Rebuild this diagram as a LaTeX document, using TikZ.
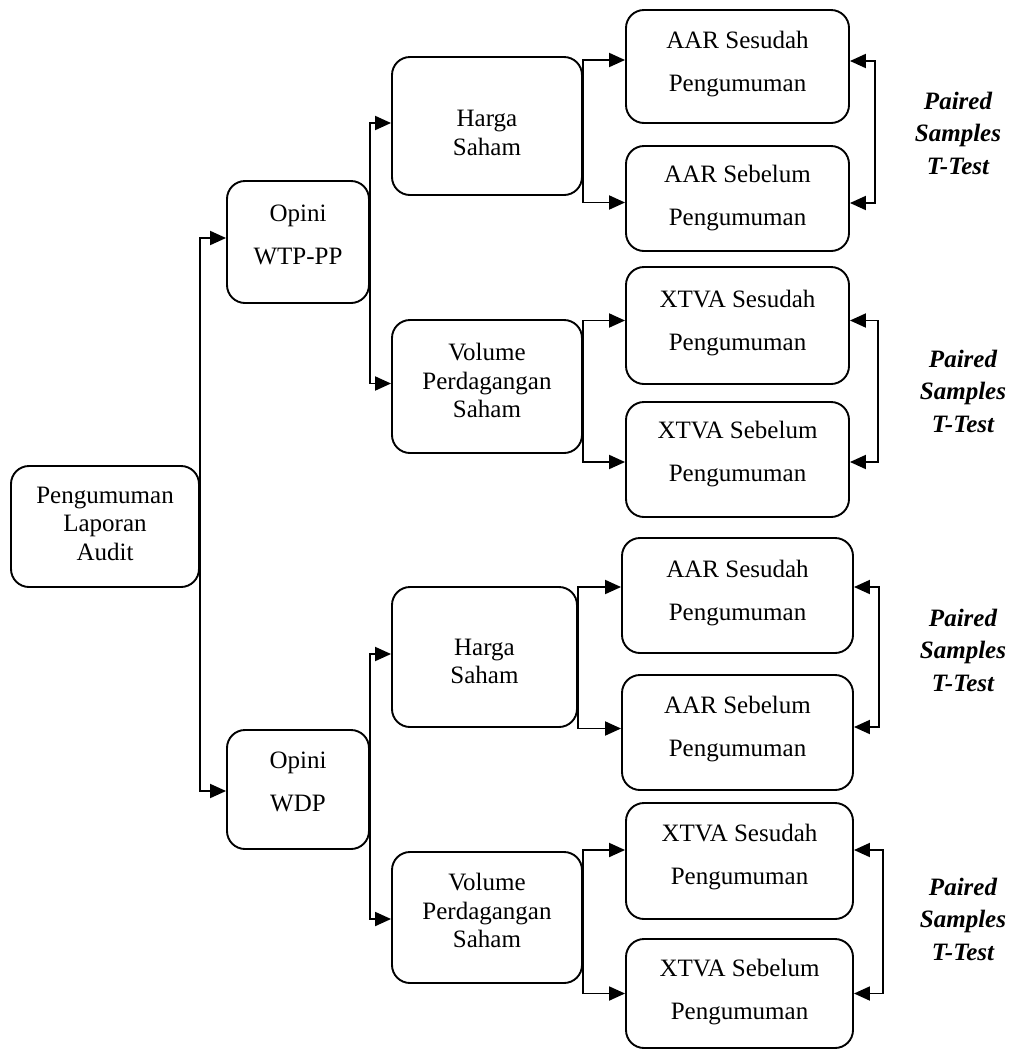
\documentclass[tikz,border=0pt]{standalone}
\usepackage{fontspec}
\setmainfont{Liberation Serif}
\usetikzlibrary{arrows.meta}
% struts used to shift the text block inside a box
\newcommand\lowstrut[1]{\rule[-#1]{0pt}{#1}}
\newcommand\tallstrut[1]{\rule{0pt}{#1}}
\tikzset{
  box/.style={draw, line width=1.9pt, rounded corners=18pt, align=center, inner sep=0pt,
    font=\fontsize{25}{28.5}\selectfont},
  conn/.style={line width=1.9pt, -{Triangle[length=16pt,width=14pt]}},
  pair/.style={line width=1.9pt, {Triangle[length=16pt,width=14pt]}-{Triangle[length=16pt,width=14pt]}},
  lab/.style={align=center, inner sep=0pt, font=\fontsize{25}{32.5}\selectfont\bfseries\itshape},
}
\begin{document}
\begin{tikzpicture}[x=1pt,y=-1pt]
\useasboundingbox (0,0) rectangle (1013,1053);
% boxes
\node[box, minimum width=188pt, minimum height=121pt] (R) at (105,526.5) {Pengumuman\\Laporan\\Audit\lowstrut{6.3pt}};
\node[box, minimum width=142pt, minimum height=122pt] (O1) at (298,242) {Opini\\[14.5pt]WTP-PP\lowstrut{15pt}};
\node[box, minimum width=142pt, minimum height=119pt] (O2) at (298,789.5) {Opini\\[14.5pt]WDP\lowstrut{16pt}};
\node[box, minimum width=190pt, minimum height=138pt] (H1) at (487,126) {\tallstrut{30.6pt}Harga\\Saham};
\node[box, minimum width=190pt, minimum height=133pt] (V1) at (487,386.5) {Volume\\Perdagangan\\Saham\lowstrut{12.3pt}};
\node[box, minimum width=185pt, minimum height=140pt] (H2) at (484.5,657) {\tallstrut{25.6pt}Harga\\Saham};
\node[box, minimum width=190pt, minimum height=131pt] (V2) at (487,917.5) {Volume\\Perdagangan\\Saham\lowstrut{14.3pt}};
% leaves
\node[box, minimum width=223pt, minimum height=113pt] (L1) at (737.5,66.5) {AAR Sesudah\\[14.5pt]Pengumuman\lowstrut{9.4pt}};
\node[box, minimum width=223pt, minimum height=105pt] (L2) at (737.5,198.5) {AAR Sebelum\\[14.5pt]Pengumuman};
\node[box, minimum width=223pt, minimum height=117pt] (L3) at (737.5,325.5) {XTVA Sesudah\\[14.5pt]Pengumuman\lowstrut{10.4pt}};
\node[box, minimum width=223pt, minimum height=115pt] (L4) at (737.5,459.5) {XTVA Sebelum\\[14.5pt]Pengumuman\lowstrut{15.4pt}};
\node[box, minimum width=231pt, minimum height=115pt] (L5) at (737.5,595.5) {AAR Sesudah\\[14.5pt]Pengumuman\lowstrut{10.4pt}};
\node[box, minimum width=231pt, minimum height=115pt] (L6) at (737.5,732.5) {AAR Sebelum\\[14.5pt]Pengumuman\lowstrut{11.4pt}};
\node[box, minimum width=227pt, minimum height=116pt] (L7) at (739.5,861) {XTVA Sesudah\\[14.5pt]Pengumuman\lowstrut{13.4pt}};
\node[box, minimum width=227pt, minimum height=109pt] (L8) at (739.5,993.5) {XTVA Sebelum\\[14.5pt]Pengumuman\lowstrut{7.4pt}};
% labels
\node[lab] (T1) at (958,133) {Paired\\Samples\\T-Test};
\node[lab] (T2) at (963,391) {Paired\\Samples\\T-Test};
\node[lab] (T3) at (963,650) {Paired\\Samples\\T-Test};
\node[lab] (T4) at (963,919) {Paired\\Samples\\T-Test};
% connectors
\draw[conn] (R.east) |- ([yshift=4pt]O1.west);
\draw[conn] (R.east) |- ([yshift=-1.5pt]O2.west);
\draw[conn] (O1.east) |- ([yshift=3pt]H1.west);
\draw[conn] (O1.east) |- ([yshift=3pt]V1.west);
\draw[conn] (O2.east) |- ([yshift=3pt]H2.west);
\draw[conn] (O2.east) |- ([yshift=-1.5pt]V2.west);
\draw[conn] (H1.east) |- ([yshift=6.5pt]L1.west);
\draw[conn] (H1.east) |- ([yshift=-4pt]L2.west);
\draw[conn] (V1.east) |- ([yshift=5pt]L3.west);
\draw[conn] (V1.east) |- ([yshift=-2.5pt]L4.west);
\draw[conn] (H2.east) |- ([yshift=8.5pt]L5.west);
\draw[conn] (H2.east) |- ([yshift=4pt]L6.west);
\draw[conn] (V2.east) |- ([yshift=11pt]L7.west);
\draw[conn] (V2.east) |- (L8.west);
% paired brackets
\draw[pair] ([yshift=5.5pt]L1.east) -- ++(25pt,0) |- ([yshift=-4.5pt]L2.east);
\draw[pair] ([yshift=5pt]L3.east) -- ++(28pt,0) |- ([yshift=-2.5pt]L4.east);
\draw[pair] ([yshift=8.5pt]L5.east) -- ++(25pt,0) |- ([yshift=5.5pt]L6.east);
\draw[pair] ([yshift=11pt]L7.east) -- ++(29pt,0) |- (L8.east);
\end{tikzpicture}
\end{document}
